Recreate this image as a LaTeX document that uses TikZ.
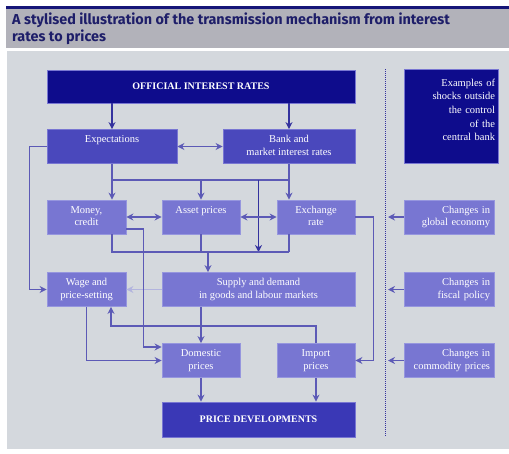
\documentclass[tikz,border=0pt]{standalone}
\usepackage{fontspec}
\setmainfont{Liberation Serif}
\newfontfamily\titlefont{Fira Sans}
\usepackage{tikz}
\usetikzlibrary{positioning}
\usetikzlibrary{arrows.meta}
\usepackage{xcolor}
\definecolor{bandgray}{RGB}{178,178,186}
\definecolor{topblue}{RGB}{22,22,120}
\definecolor{titleblue}{RGB}{30,30,105}
\definecolor{panelgray}{RGB}{212,216,221}
\definecolor{bigblue}{RGB}{14,12,140}
\definecolor{pdblue}{RGB}{58,56,182}
\definecolor{keyblue}{RGB}{74,72,188}
\definecolor{boxblue}{RGB}{120,118,210}
\definecolor{boxedge}{RGB}{150,150,222}
\definecolor{linkblue}{RGB}{92,90,182}
\definecolor{darklink}{RGB}{52,50,158}
\definecolor{faintblue}{RGB}{178,180,222}

\begin{document}
\begin{tikzpicture}[x=1pt, y=-1pt, >={Stealth[length=7pt,width=7pt]},
  every node/.style={text=white, font=\fontsize{10.5}{12.5}\selectfont},
  box/.style={draw=boxedge, fill=boxblue, line width=0.8pt, align=center,
    inner xsep=3pt, inner ysep=5pt, text height=8pt, text depth=16pt},
  two/.style={text height=20.5pt, text depth=3.5pt},
  keybox/.style={box, fill=keyblue, draw=boxblue},
  shock/.style={box, align=right, text width=82pt, inner xsep=4pt},
  big/.style={draw=boxblue, fill=bigblue, line width=0.8pt, minimum height=33pt,
    font=\bfseries\fontsize{10}{12}\selectfont},
  link/.style={draw=linkblue, line width=1.7pt},
  arr/.style={link, ->},
  dbl/.style={link, <->},
  sepline/.style={draw=darklink, line width=1pt, densely dotted}]
  \useasboundingbox (0,0) rectangle (509,453);
  \fill[topblue] (6,6) rectangle (509,9);
  \fill[bandgray] (6,9) rectangle (509,48);
  \fill[panelgray] (7,51) rectangle (509,449);
  \node[anchor=base west, align=left, inner sep=0pt, text=titleblue,
    font=\titlefont\bfseries\fontsize{14.4}{17}\selectfont] (title) at (12,41)
    {A stylised illustration of the transmission mechanism from interest\\rates to prices};

  \node[big, minimum width=308pt] (oir) at (201,86.5) {OFFICIAL INTEREST RATES};
  \node[keybox, minimum width=130pt] (exp) at (112,146.5) {Expectations};
  \node[keybox, two, minimum width=132pt] (bank) at (289,146.5) {Bank and\\market interest rates};
  \node[shock, fill=bigblue, draw=boxblue, inner ysep=9pt, text height=8pt, text depth=68pt,
    text width=88pt, inner xsep=3pt, font=\fontsize{10.5}{13.7}\selectfont]
    (shocks) at (451,116) {Examples of\\shocks outside\\the control\\of the\\central bank};

  \node[box, two, minimum width=79pt] (money) at (86.5,217) {Money,\\credit};
  \node[box, minimum width=78pt] (asset) at (201,217) {Asset prices};
  \node[box, two, minimum width=78pt] (exch) at (316,217) {Exchange\\rate};
  \node[box, two, minimum width=79pt] (wage) at (86.5,289.5) {Wage and\\price-setting};
  \node[box, two, minimum width=193pt] (supply) at (258.5,289.5) {Supply and demand\\in goods and labour markets};
  \node[box, two, minimum width=78pt] (dom) at (201,360.5) {Domestic\\prices};
  \node[box, two, minimum width=78pt] (imp) at (316,360.5) {Import\\prices};
  \node[big, fill=pdblue, minimum width=193pt, minimum height=35pt] (pd) at (258.5,419.5) {PRICE DEVELOPMENTS};

  \node[shock] (glob) at (449,217) {Changes in\\global economy};
  \node[shock] (fisc) at (449,289.5) {Changes in\\fiscal policy};
  \node[shock] (comm) at (449,360.5) {Changes in\\commodity prices};

  \coordinate (row1) at (0,180);
  \coordinate (row2) at (0,252);
  \coordinate (row3) at (0,326);
  \coordinate (join) at (208,252);
  \coordinate (sepT) at (385,69);
  \coordinate (sepB) at (385,437);
  \coordinate (tips) at (388,0);

  \draw[arr, draw=darklink] (oir.south -| exp.north) -- (exp.north);
  \draw[arr, draw=darklink] (oir.south -| bank.north) -- (bank.north);
  \draw[dbl] (exp.east) -- (bank.west);
  \draw[arr] (exp.south) -- (exp.south |- money.north);
  \draw[link] (exp.south |- row1) -- (bank.south |- row1);
  \draw[arr] (asset.north |- row1) -- (asset.north);
  \draw[arr] (bank.south) -- (bank.south |- exch.north);
  \draw[arr, draw=darklink] (supply.north |- row1) -- (supply.north |- row2);
  \draw[arr] (exp.west) -- ++(-17,0) |- (wage.west);

  \draw[dbl] (money.east) -- (asset.west);
  \draw[dbl] (asset.east) -- (exch.west);
  \draw[link] (exp.south |- money.south) -- (exp.south |- row2) -- (bank.south |- row2);
  \draw[link] (asset.south) -- (asset.south |- row2);
  \draw[link] (bank.south |- exch.south) -- (bank.south |- row2);
  \draw[arr] (join) -- (join |- supply.north);
  \draw[link, draw=faintblue, ->] (supply.west) -- (wage.east);

  \draw[arr] ([yshift=-12pt]money.east) -- ++(17,0) |- ([yshift=13.5pt]dom.west);
  \draw[arr] (wage.south) |- (dom.west);
  \draw[arr] (dom.north |- supply.south) -- (dom.north);
  \draw[arr] (imp.north) |- ([xshift=24.5pt]wage.south |- row3) -- ([xshift=24.5pt]wage.south);
  \draw[arr] (exch.east) -- ++(18,0) |- (imp.east);
  \draw[arr] (dom.south) -- (dom.south |- pd.north);
  \draw[arr] (imp.south) -- (imp.south |- pd.north);

  \draw[sepline] (sepT) -- (sepB);
  \draw[arr] (glob.west) -- (glob.west -| tips);
  \draw[arr] (fisc.west) -- (fisc.west -| tips);
  \draw[arr] (comm.west) -- (comm.west -| tips);
\end{tikzpicture}
\end{document}
